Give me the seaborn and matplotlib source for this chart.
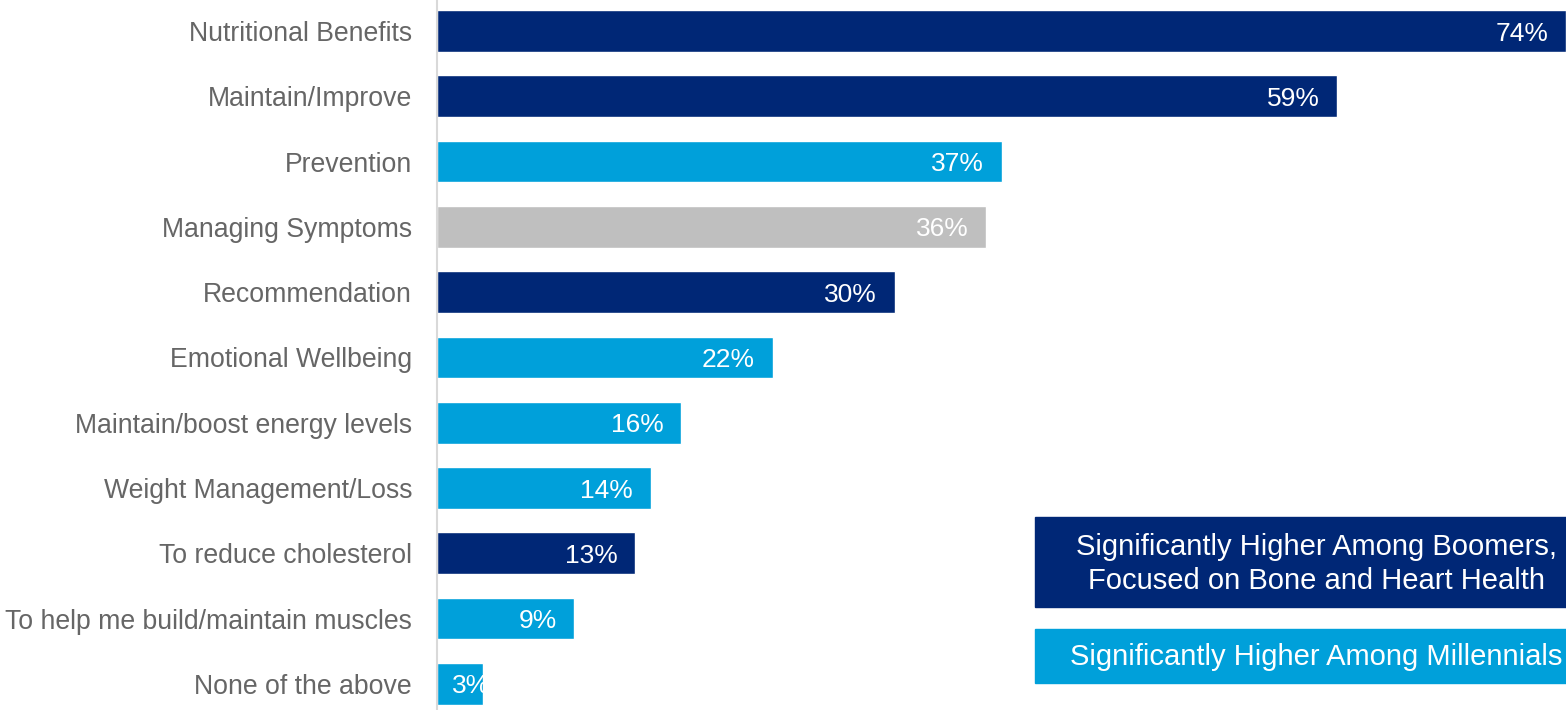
import matplotlib
matplotlib.use("Agg")
import matplotlib.pyplot as plt
import seaborn as sns
import pandas as pd
from matplotlib.patches import Rectangle

categories = [
    "Nutritional Benefits", "Maintain/Improve", "Prevention", "Managing Symptoms",
    "Recommendation", "Emotional Wellbeing", "Maintain/boost energy levels",
    "Weight Management/Loss", "To reduce cholesterol",
    "To help me build/maintain muscles", "None of the above",
]
values = [74, 59, 37, 36, 30, 22, 16, 14, 13, 9, 3]
groups = ["boomers", "boomers", "millennials", "none", "boomers", "millennials",
          "millennials", "millennials", "boomers", "millennials", "millennials"]
legend_labels = ["Significantly Higher Among Boomers,\nFocused on Bone and Heart Health",
                 "Significantly Higher Among Millennials"]

NAVY = "#002776"
LIGHT = "#00A0DA"
GRAY = "#BFBFBF"
palette = {"boomers": NAVY, "millennials": LIGHT, "none": GRAY}

sns.set_theme(style="white")
plt.rcParams["font.family"] = ["Liberation Sans", "DejaVu Sans"]

df = pd.DataFrame({"cat": categories, "val": values, "grp": groups})

fig = plt.figure(figsize=(15.66, 7.10), dpi=100)
ax = fig.add_axes([437 / 1566, 0, 1 - 437 / 1566, 1])
sns.barplot(data=df, x="val", y="cat", hue="grp", palette=palette, dodge=False,
            width=0.64, legend=False, ax=ax, saturation=1)

ax.set_xlim(0, 74.0)
ax.set_ylim(10.40, -0.475)
ax.set_xlabel("")
ax.set_ylabel("")
ax.set_xticks([])
for s in ["top", "right", "bottom"]:
    ax.spines[s].set_visible(False)
ax.spines["left"].set_color("#D9D9D9")
ax.spines["left"].set_linewidth(1.5)
ax.tick_params(axis="y", length=0, pad=18, labelsize=19.2, labelcolor="#666666")

# value labels inside bars (clipped to the bar)
bars = sorted([p for p in ax.patches if p.get_width() > 0], key=lambda p: p.get_y())
for p in bars:
    v = p.get_width()
    yc = p.get_y() + p.get_height() / 2
    xr = v - 1.15
    if xr < 3.0:
        t = ax.text(1.0, yc, f"{v:.0f}%", ha="left", va="center_baseline",
                    color="white", fontsize=19)
    else:
        t = ax.text(xr, yc, f"{v:.0f}%", ha="right", va="center_baseline",
                    color="white", fontsize=19)
    t.set_clip_path(p)

# legend boxes
fig.patches.append(Rectangle((1035 / 1566, 1 - 607 / 710), 600 / 1566, 90 / 710,
                             transform=fig.transFigure, color=NAVY, zorder=3))
fig.patches.append(Rectangle((1035 / 1566, 1 - 683 / 710), 600 / 1566, 54 / 710,
                             transform=fig.transFigure, color=LIGHT, zorder=3))
fig.text(1316 / 1566, 1 - 564 / 710, legend_labels[0], ha="center", va="center",
         color="white", fontsize=21, linespacing=1.24, zorder=4)
fig.text(1316 / 1566, 1 - 657 / 710, legend_labels[1], ha="center", va="center",
         color="white", fontsize=21, zorder=4)

fig.savefig("out.png", dpi=100)
